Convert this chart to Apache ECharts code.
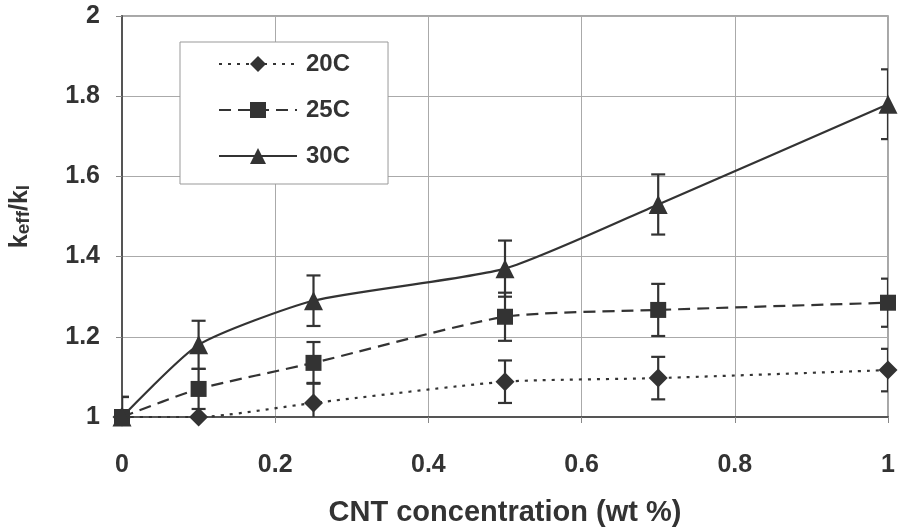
<!DOCTYPE html>
<html>
<head>
<meta charset="utf-8">
<script src="https://cdn.jsdelivr.net/npm/echarts@6/dist/echarts.min.js"></script>
<style>html,body{margin:0;padding:0;background:#fff}#c{width:900px;height:532px}</style>
</head>
<body>
<div id="c"></div>
<script>
const xVals = [0, 0.1, 0.25, 0.5, 0.7, 1.0];
const seriesNames = ['20C', '25C', '30C'];
const s20 = [1.0, 1.0, 1.035, 1.088, 1.097, 1.117];
const s20err = [0.05, 0, 0.05, 0.053, 0.053, 0.053];
const s25 = [1.0, 1.07, 1.135, 1.25, 1.267, 1.285];
const s25err = [0.05, 0.05, 0.052, 0.06, 0.065, 0.06];
const s30 = [1.0, 1.18, 1.29, 1.37, 1.53, 1.78];
const s30err = [0.05, 0.06, 0.063, 0.07, 0.075, 0.087];
const xTicks = ['0', '0.2', '0.4', '0.6', '0.8', '1'];
const yTicks = ['1', '1.2', '1.4', '1.6', '1.8', '2'];

const dark = '#333';
const FONT = 'Liberation Sans, Arial, sans-serif';
const vals = [s20, s25, s30];
const errs = [s20err, s25err, s30err];
const symbols = ['diamond', 'rect', 'triangle'];
const symSizes = [19, 16, 19];
const lineTypes = [[3, 6], [12, 7], 'solid'];

const chart = echarts.init(document.getElementById('c'));
const series = [];
for (let i = 0; i < 3; i++) {
  series.push({
    name: seriesNames[i],
    type: 'line',
    smooth: 0.2,
    data: xVals.map((x, j) => [x, vals[i][j]]),
    symbol: symbols[i],
    symbolSize: symSizes[i],
    showAllSymbol: true,
    itemStyle: { color: dark },
    lineStyle: { color: dark, width: 2.2, type: lineTypes[i] },
    z: 3
  });
  series.push({
    type: 'custom',
    name: seriesNames[i] + ' err',
    data: xVals.map((x, j) => [x, vals[i][j] - errs[i][j], vals[i][j] + errs[i][j]]),
    clip: true,
    renderItem: function (params, api) {
      const x = api.value(0), lo = api.value(1), hi = api.value(2);
      if (hi - lo < 1e-6) return null;
      const p1 = api.coord([x, lo]);
      const p2 = api.coord([x, hi]);
      const w = 7;
      const st = { stroke: dark, lineWidth: 2.2 };
      return {
        type: 'group',
        children: [
          { type: 'line', shape: { x1: p1[0], y1: p1[1], x2: p2[0], y2: p2[1] }, style: st },
          { type: 'line', shape: { x1: p1[0] - w, y1: p1[1], x2: p1[0] + w, y2: p1[1] }, style: st },
          { type: 'line', shape: { x1: p2[0] - w, y1: p2[1], x2: p2[0] + w, y2: p2[1] }, style: st }
        ]
      };
    },
    z: 2
  });
}

chart.setOption({
  animation: false,
  backgroundColor: '#fff',
  textStyle: { fontFamily: FONT },
  grid: { left: 122, right: 12, top: 16, bottom: 114, show: true, borderColor: '#8a8a8a', borderWidth: 1.5 },
  legend: {
    data: seriesNames,
    orient: 'vertical',
    left: 180, top: 42,
    padding: [10, 38, 16, 38],
    itemGap: 22,
    itemWidth: 78, itemHeight: 20,
    backgroundColor: '#fff',
    borderColor: '#999', borderWidth: 1,
    textStyle: { fontSize: 24, lineHeight: 24, fontWeight: 'bold', color: dark, fontFamily: FONT, padding: [0, 0, 0, 4] }
  },
  xAxis: {
    type: 'value', min: 0, max: 1, interval: 0.2,
    name: 'CNT concentration (wt %)',
    nameLocation: 'middle', nameGap: 81,
    nameTextStyle: { fontSize: 29, fontWeight: 'bold', color: dark, fontFamily: FONT },
    axisLine: { show: true, lineStyle: { color: '#555', width: 2 } },
    axisTick: { show: true, inside: false, length: 6, lineStyle: { color: '#888' } },
    axisLabel: { margin: 36, fontSize: 25, fontWeight: 'bold', color: dark, fontFamily: FONT,
      formatter: v => xTicks[Math.round(v / 0.2)] },
    splitLine: { show: true, lineStyle: { color: '#aaa', width: 1 } }
  },
  yAxis: {
    type: 'value', min: 1, max: 2, interval: 0.2,
    name: '{a|k}{b|eff}{a|/k}{b|l}',
    nameLocation: 'middle', nameGap: 89,
    nameTextStyle: {
      color: dark,
      rich: {
        a: { fontSize: 25, fontWeight: 'bold', color: dark, fontFamily: FONT },
        b: { fontSize: 19, fontWeight: 'bold', color: dark, fontFamily: FONT, padding: [6, 0, 0, 0] }
      }
    },
    axisLine: { show: true, lineStyle: { color: '#555', width: 2 } },
    axisTick: { show: true, length: 6, lineStyle: { color: '#888' } },
    axisLabel: { margin: 22, fontSize: 25, fontWeight: 'bold', color: dark, fontFamily: FONT,
      formatter: v => yTicks[Math.round((v - 1) / 0.2)] },
    splitLine: { show: true, lineStyle: { color: '#aaa', width: 1 } }
  },
  series: series
});
</script>
</body>
</html>
